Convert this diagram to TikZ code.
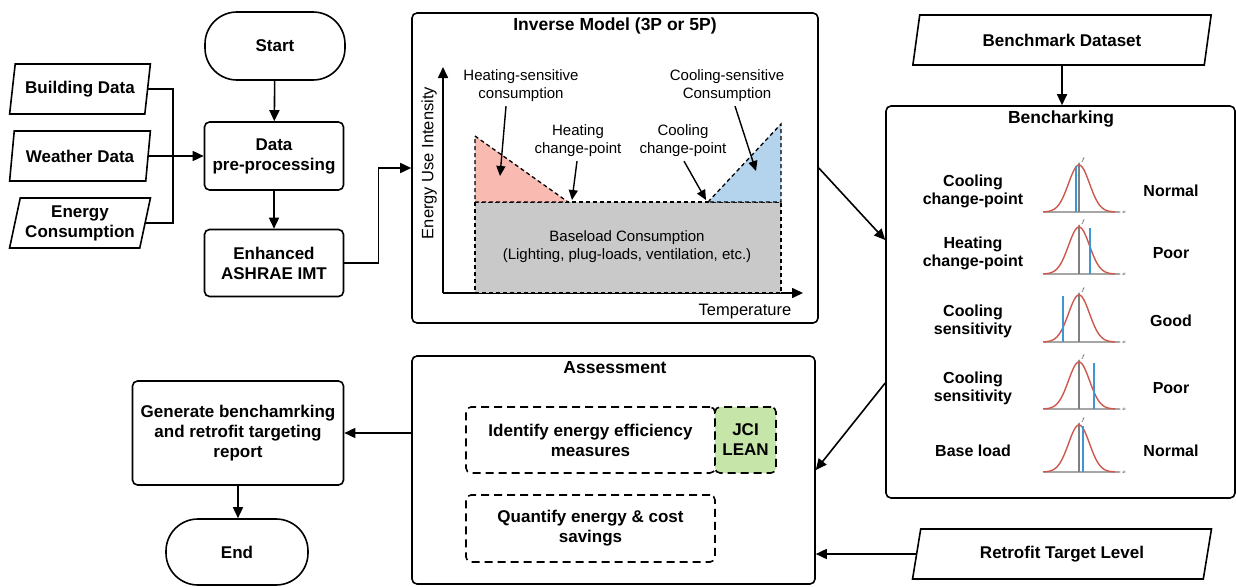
\documentclass[tikz,border=0pt]{standalone}
\usepackage{fontspec}
\setmainfont{Liberation Sans}
\usetikzlibrary{shapes.geometric, arrows.meta, calc, positioning}

\definecolor{heatfill}{RGB}{249,186,178}
\definecolor{coolfill}{RGB}{180,212,238}
\definecolor{basefill}{RGB}{201,201,201}
\definecolor{leanfill}{RGB}{198,229,168}
\definecolor{bellred}{RGB}{205,88,78}
\definecolor{markblue}{RGB}{62,150,212}

\begin{document}
\begin{tikzpicture}[x=1pt, y=-1pt, line width=1.6pt,
  arr/.style={-{Triangle[length=11pt,width=10pt]}},
  proc/.style={draw, rounded corners=5pt, align=center, font=\fontsize{17}{20}\selectfont\bfseries},
  term/.style={draw, rounded corners=32pt, minimum height=66pt, font=\fontsize{17}{20}\selectfont\bfseries},
  io/.style={draw, trapezium, trapezium left angle=75, trapezium right angle=105,
    trapezium stretches=true, minimum height=50pt, inner sep=1pt, align=center,
    font=\fontsize{17}{20}\selectfont\bfseries},
  panel/.style={draw, rounded corners=5pt},
  paneltitle/.style={font=\fontsize{17.5}{20}\selectfont\bfseries},
  dbox/.style={draw, dash pattern=on 8pt off 5pt, rounded corners=5pt, align=center,
    font=\fontsize{17}{20}\selectfont\bfseries},
  region/.style={line width=1.3pt, dash pattern=on 4pt off 3pt},
  note/.style={align=center, font=\fontsize{15}{18}\selectfont},
  notearr/.style={line width=1.4pt, -{Triangle[length=10pt,width=9pt]}},
  rowlbl/.style={align=center, font=\fontsize{16}{18}\selectfont\bfseries},
  tinylbl/.style={inner sep=0pt, font=\fontsize{5}{5}\selectfont}
]
\useasboundingbox (0,0) rectangle (1236,586);

% Inputs and preprocessing
\node[term, minimum width=140pt, minimum height=68pt] (start) at (275,46) {Start};
\node[proc, minimum width=139pt, minimum height=68pt] (prep) at (274,156) {Data\\pre-processing};
\node[proc, minimum width=139pt, minimum height=67pt] (imt) at (274,263) {Enhanced\\ASHRAE IMT};
\node[io, minimum width=141pt] (bdata) at (80,89) {Building Data};
\node[io, minimum width=141pt] (wdata) at (80,156) {Weather Data};
\node[io, minimum width=141pt] (edata) at (80,223) {Energy\\Consumption};
\coordinate (merge) at (173,156);

\draw (bdata.east) -| (merge) |- (edata.east);
\draw[arr] (wdata.east) -- (prep.west);
\draw[arr] (start) -- (prep);
\draw[arr] (prep) -- (imt);

% Inverse model
\node[panel, minimum width=406pt, minimum height=310pt] (inv) at (615,168) {};
\node[paneltitle] (invtitle) at (615,26) {Inverse Model (3P or 5P)};
\draw[arr] (imt.east) -- ++(34,0) |- (inv.west);

\draw[arr] (443,293) -- (443,67);
\draw[arr] (443,293) -- (803,293);
\filldraw[region, fill=basefill] (475,202) rectangle (781,293);
\filldraw[region, fill=heatfill] (475,136) -- (568,202) -- (475,202) -- cycle;
\filldraw[region, fill=coolfill] (708,202) -- (781,124) -- (781,202) -- cycle;

\node[note, rotate=90, font=\fontsize{16.5}{19}\selectfont] (eui) at (429,163) {Energy Use Intensity};
\node[note, font=\fontsize{16.5}{19}\selectfont] (temp) at (745,312) {Temperature};
\node[note] (base) at (627,247) {Baseload Consumption\\(Lighting, plug-loads, ventilation, etc.)};

\node[note] (hsens) at (521,86) {Heating-sensitive\\consumption};
\node[note] (csens) at (727,86) {Cooling-sensitive\\Consumption};
\node[note] (hcp) at (578,141) {Heating\\change-point};
\node[note] (ccp) at (683,141) {Cooling\\change-point};
\draw[notearr] ([xshift=-15pt]hsens.south) -- (500,176);
\draw[notearr] ([xshift=8pt]csens.south) -- (756,171);
\draw[notearr] ([xshift=-1pt]hcp.south) -- (572,200);
\draw[notearr] ([xshift=1pt]ccp.south) -- (706,200);

% Benchmarking
\node[io, minimum width=299pt] (bmdata) at (1062,40) {Benchmark Dataset};
\node[panel, minimum width=349pt, minimum height=392pt] (bench) at (1060.5,302) {};
\node[paneltitle] (benchtitle) at (1061,119) {Bencharking};
\draw[arr] (bmdata.south) -- (bench.north -| bmdata.south);
\draw[arr] (inv.east) -- ($(bench.west)+(0,-62)$);

\foreach \i/\by/\bx/\lbl/\grade in {
    1/212/1076/{Cooling\\change-point}/Normal,
    2/274/1090/{Heating\\change-point}/Poor,
    3/342/1063/{Cooling\\sensitivity}/Good,
    4/409/1094/{Cooling\\sensitivity}/Poor,
    5/472/1083/{Base load}/Normal}{
  \node[rowlbl] (lbl\i) at (973,\by-21) {\lbl};
  \node[rowlbl] (grade\i) at (1171,\by-21) {\grade};
  \draw[black!35, line width=1.4pt, -{Latex[length=2.5pt,width=2.5pt]}] (1044,\by) -- (1121,\by);
  \draw[black!50, line width=1.3pt, -{Latex[length=2.5pt,width=2.5pt]}] (1079,\by) -- (1079,\by-50);
  \draw[bellred, line width=1.4pt, smooth, samples=61, domain=-36:36]
    plot ({1079+\x},{\by-47*exp(-(\x)^2/220)});
  \draw[markblue, line width=1.3pt] (\bx,\by) -- (\bx,\by-46);
  \node[tinylbl] (f\i) at (1083,\by-52) {$f$};
  \node[tinylbl] (x\i) at (1124,\by) {$x$};
}

% Assessment
\node[panel, minimum width=403pt, minimum height=228pt] (asmt) at (613.5,470) {};
\node[paneltitle] (asmttitle) at (615,368) {Assessment};
\node[dbox, minimum width=249pt, minimum height=66pt] (ident) at (590.5,440) {Identify energy efficiency\\measures};
\node[dbox, fill=leanfill, minimum width=61pt, minimum height=66pt, inner sep=1pt] (lean) at (745.5,440) {JCI\\LEAN};
\node[dbox, minimum width=249pt, minimum height=67pt] (quant) at (590.5,528.5) {Quantify energy \& cost\\savings};
\draw[arr] ($(bench.west)+(0,81)$) -- (asmt.east);

\node[io, minimum width=299pt] (target) at (1062,554) {Retrofit Target Level};
\draw[arr] (target.west) -- (target.west -| asmt.east);

% Report and end
\node[proc, minimum width=211pt, minimum height=104pt] (report) at (238,433) {Generate benchamrking\\and retrofit targeting\\report};
\node[term, minimum width=142pt] (stop) at (237,552) {End};
\draw[arr] (asmt.west |- report.east) -- (report.east);
\draw[arr] (report) -- (report.south |- stop.north);
\end{tikzpicture}
\end{document}
